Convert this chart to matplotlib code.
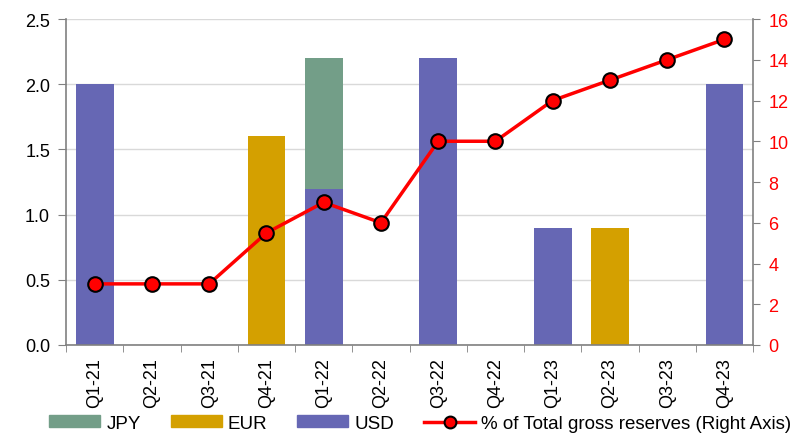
import matplotlib
matplotlib.use("Agg")
import matplotlib.pyplot as plt
import numpy as np
from matplotlib.lines import Line2D
from matplotlib.patches import Patch

plt.rcParams['font.family'] = ['Liberation Sans', 'DejaVu Sans']

quarters = ["Q1-21", "Q2-21", "Q3-21", "Q4-21", "Q1-22", "Q2-22",
            "Q3-22", "Q4-22", "Q1-23", "Q2-23", "Q3-23", "Q4-23"]
usd = [2.0, 0, 0, 0, 1.2, 0, 2.2, 0, 0.9, 0, 0, 2.0]
eur = [0, 0, 0, 1.6, 0, 0, 0, 0, 0, 0.9, 0, 0]
jpy = [0, 0, 0, 0, 1.0, 0, 0, 0, 0, 0, 0, 0]
pct_reserves = [3, 3, 3, 5.5, 7, 6, 10, 10, 12, 13, 14, 15]

c_usd = "#6667B4"
c_eur = "#D4A000"
c_jpy = "#739E88"

fig = plt.figure(figsize=(7.96, 4.35), dpi=100)
ax = fig.add_axes([0.083, 0.2046, 0.863, 0.7494])
x = np.arange(len(quarters))
w = 0.66
usd_a = np.array(usd); eur_a = np.array(eur); jpy_a = np.array(jpy)
ax.bar(x, usd_a, w, color=c_usd, zorder=2)
ax.bar(x, eur_a, w, bottom=usd_a, color=c_eur, zorder=2)
ax.bar(x, jpy_a, w, bottom=usd_a + eur_a, color=c_jpy, zorder=2)

ax.set_ylim(0, 2.5)
ax.set_xlim(-0.5, len(quarters) - 0.5)
ax.set_yticks(np.arange(0, 2.51, 0.5))
ax.set_yticklabels([f"{v:.1f}" for v in np.arange(0, 2.51, 0.5)])
ax.yaxis.grid(True, color="#D9D9D9", lw=1, zorder=0)
ax.set_axisbelow(True)
ax.set_xticks(x)
ax.set_xticklabels(quarters, rotation=90)
ax.set_xticks(np.arange(-0.5, len(quarters), 1), minor=True)
ax.tick_params(axis='x', which='major', length=0, pad=9, labelsize=13)
ax.tick_params(axis='x', which='minor', length=5, color="#808080")
ax.tick_params(axis='y', length=5.5, pad=6, color="#808080", labelsize=13)
for s in ["top", "right"]:
    ax.spines[s].set_visible(False)
for s in ["left", "bottom"]:
    ax.spines[s].set_color("#808080")
    ax.spines[s].set_linewidth(1.2)

ax2 = ax.twinx()
ax2.plot(x, pct_reserves, color="#FF0000", lw=2.5, marker="o", ms=10.5,
         mfc="#FF0000", mec="black", mew=1.5, zorder=5)
ax2.set_ylim(0, 16)
ax2.set_yticks(np.arange(0, 17, 2))
ax2.tick_params(axis='y', length=5, pad=6, color="#808080", labelcolor="#FF0000", labelsize=13)
for s in ["top", "left", "bottom"]:
    ax2.spines[s].set_visible(False)
ax2.spines["right"].set_color("#808080")
ax2.spines["right"].set_linewidth(1.2)

handles = [Patch(color=c_jpy, label="JPY"), Patch(color=c_eur, label="EUR"),
           Patch(color=c_usd, label="USD"),
           Line2D([], [], color="#FF0000", lw=2.5, marker="o", ms=8.5, mfc="#FF0000",
                  mec="black", mew=1.5, label="% of Total gross reserves (Right Axis)")]
fig.legend(handles=handles, loc="center", bbox_to_anchor=(0.528, 0.025), ncol=4,
           frameon=False, fontsize=13.5, handlelength=2.72, handleheight=0.53,
           columnspacing=1.6, handletextpad=0.32, borderpad=0, borderaxespad=0)

fig.savefig("out.png", dpi=100)
